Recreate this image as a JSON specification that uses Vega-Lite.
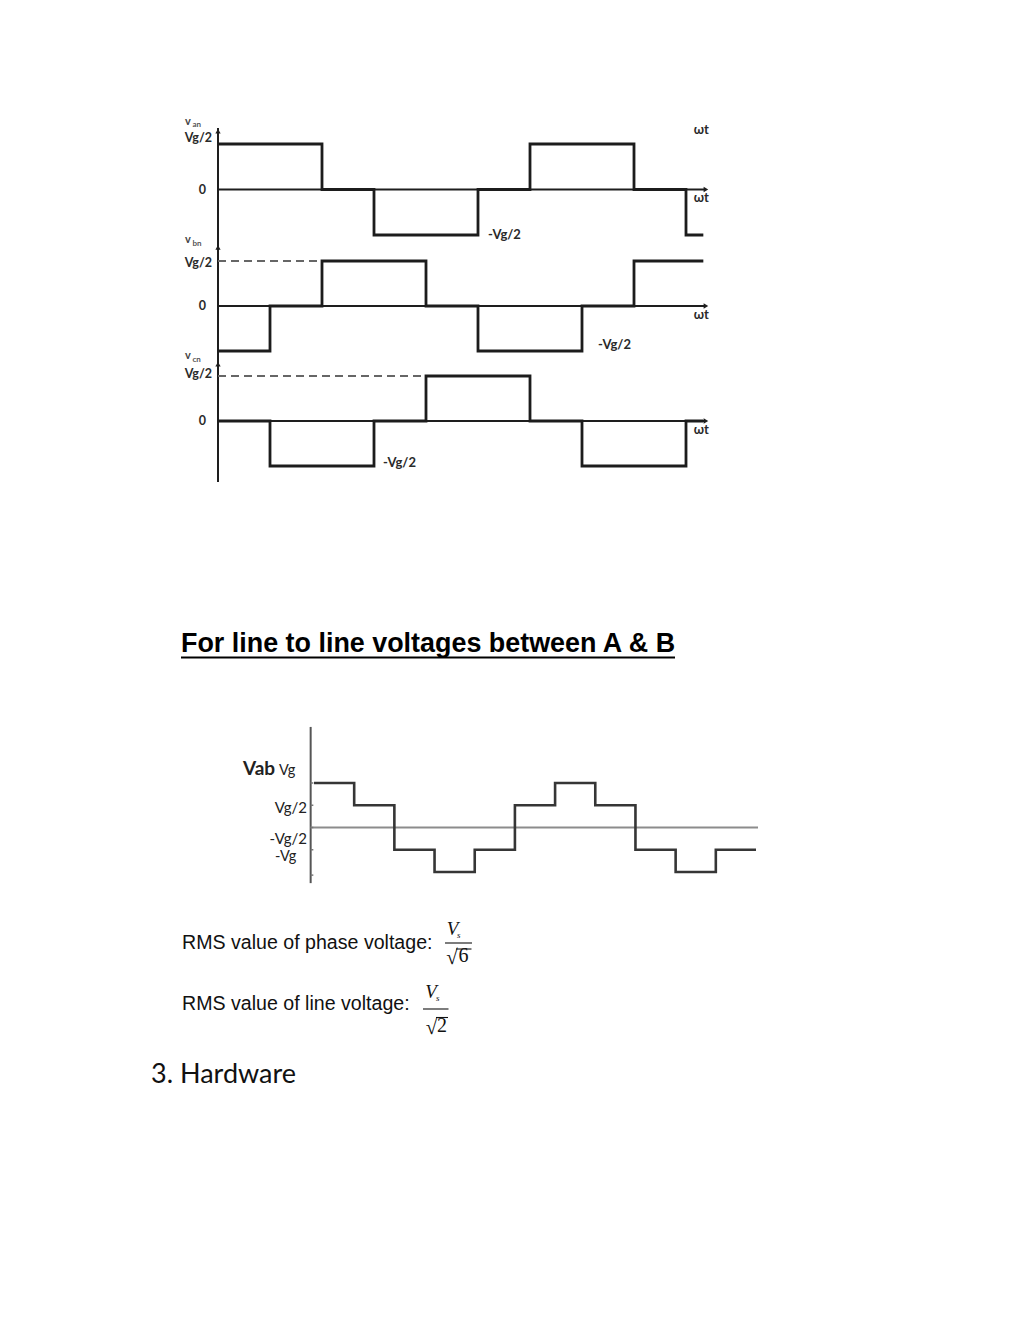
{
  "$schema": "https://vega.github.io/schema/vega-lite/v6.json",
  "width": 1024,
  "height": 1326,
  "autosize": {"type": "fit", "contains": "padding"},
  "padding": 0,
  "background": "white",
  "config": {"view": {"stroke": null}, "axis": {"disable": true}, "legend": {"disable": true}},
  "datasets": {
    "phases": [
      {"phase": "an", "wt": 0, "v": 0.5}, {"phase": "an", "wt": 120, "v": 0}, {"phase": "an", "wt": 180, "v": -0.5}, {"phase": "an", "wt": 300, "v": 0},
      {"phase": "an", "wt": 360, "v": 0.5}, {"phase": "an", "wt": 480, "v": 0}, {"phase": "an", "wt": 540, "v": -0.5}, {"phase": "an", "wt": 560, "v": -0.5},
      {"phase": "bn", "wt": 0, "v": -0.5}, {"phase": "bn", "wt": 60, "v": 0}, {"phase": "bn", "wt": 120, "v": 0.5}, {"phase": "bn", "wt": 240, "v": 0},
      {"phase": "bn", "wt": 300, "v": -0.5}, {"phase": "bn", "wt": 420, "v": 0}, {"phase": "bn", "wt": 480, "v": 0.5}, {"phase": "bn", "wt": 560, "v": 0.5},
      {"phase": "cn", "wt": 0, "v": 0}, {"phase": "cn", "wt": 60, "v": -0.5}, {"phase": "cn", "wt": 180, "v": 0}, {"phase": "cn", "wt": 240, "v": 0.5},
      {"phase": "cn", "wt": 360, "v": 0}, {"phase": "cn", "wt": 420, "v": -0.5}, {"phase": "cn", "wt": 540, "v": 0}, {"phase": "cn", "wt": 560, "v": 0}
    ],
    "axes": [
      {"phase": "an", "wt": 0, "v1": 0.676, "v2": -0.665, "end": 562},
      {"phase": "bn", "wt": 0, "v1": 0.689, "v2": -0.667, "end": 562},
      {"phase": "cn", "wt": 0, "v1": 0.667, "v2": -0.678, "end": 562}
    ],
    "arrows": [
      {"phase": "an", "wt": 0, "v": 0.64, "dir": "up"}, {"phase": "an", "wt": 563, "v": 0, "dir": "right"},
      {"phase": "bn", "wt": 0, "v": 0.65, "dir": "up"}, {"phase": "bn", "wt": 563, "v": 0, "dir": "right"},
      {"phase": "cn", "wt": 0, "v": 0.63, "dir": "up"}, {"phase": "cn", "wt": 563, "v": 0, "dir": "right"}
    ],
    "refs": [
      {"phase": "bn", "wt1": 0, "wt2": 120, "v": 0.5},
      {"phase": "cn", "wt1": 0, "wt2": 240, "v": 0.5}
    ],
    "toplabels": [
      {"phase": "an", "role": "level", "wt": -6.9, "v": 0.57, "label": "Vg/2"},
      {"phase": "an", "role": "level", "wt": -13.8, "v": 0, "label": "0"},
      {"phase": "an", "role": "note", "wt": 549, "v": 0.654, "label": "ωt"},
      {"phase": "an", "role": "note", "wt": 549, "v": -0.093, "label": "ωt"},
      {"phase": "an", "role": "note", "wt": 311.5, "v": -0.5, "label": "-Vg/2"},
      {"phase": "an", "role": "sym", "wt": -38, "v": 0.745, "label": "v"},
      {"phase": "an", "role": "sub", "wt": -29.5, "v": 0.712, "label": "an"},
      {"phase": "bn", "role": "level", "wt": -6.9, "v": 0.478, "label": "Vg/2"},
      {"phase": "bn", "role": "level", "wt": -13.8, "v": 0, "label": "0"},
      {"phase": "bn", "role": "note", "wt": 549, "v": -0.1, "label": "ωt"},
      {"phase": "bn", "role": "note", "wt": 438.5, "v": -0.433, "label": "-Vg/2"},
      {"phase": "bn", "role": "sym", "wt": -38, "v": 0.733, "label": "v"},
      {"phase": "bn", "role": "sub", "wt": -29.5, "v": 0.687, "label": "bn"},
      {"phase": "cn", "role": "level", "wt": -6.9, "v": 0.52, "label": "Vg/2"},
      {"phase": "cn", "role": "level", "wt": -13.8, "v": 0, "label": "0"},
      {"phase": "cn", "role": "note", "wt": 549, "v": -0.1, "label": "ωt"},
      {"phase": "cn", "role": "note", "wt": 190.4, "v": -0.467, "label": "-Vg/2"},
      {"phase": "cn", "role": "sym", "wt": -38, "v": 0.72, "label": "v"},
      {"phase": "cn", "role": "sub", "wt": -29.5, "v": 0.683, "label": "cn"}
    ],
    "vab": [
      {"wt": 0, "v": 1}, {"wt": 60, "v": 0.5}, {"wt": 120, "v": -0.5}, {"wt": 180, "v": -1}, {"wt": 240, "v": -0.5}, {"wt": 300, "v": 0.5},
      {"wt": 360, "v": 1}, {"wt": 420, "v": 0.5}, {"wt": 480, "v": -0.5}, {"wt": 540, "v": -1}, {"wt": 600, "v": -0.5}, {"wt": 660, "v": -0.5}
    ],
    "vabticks": [
      {"wt1": -5, "wt2": -1, "v": 1}, {"wt1": -5, "wt2": -1, "v": 0.5}, {"wt1": -5, "wt2": -1, "v": 0},
      {"wt1": -5, "wt2": -1, "v": -0.5}, {"wt1": -5, "wt2": -1, "v": -1.07}
    ],
    "vablabels": [
      {"role": "big", "wt": -82.1, "v": 1.315, "label": "Vab"},
      {"role": "left", "wt": -52.3, "v": 1.27, "label": "Vg"},
      {"role": "left", "wt": -58.2, "v": -0.663, "label": "-Vg"},
      {"role": "right", "wt": -10.5, "v": 0.438, "label": "Vg/2"},
      {"role": "right", "wt": -10.5, "v": -0.258, "label": "-Vg/2"}
    ],
    "page": [
      {"role": "title", "x": 108.18, "y": 389.43, "text": "For line to line voltages between A & B"},
      {"role": "body", "x": 108.77, "y": 566.83, "text": "RMS value of phase voltage:"},
      {"role": "body", "x": 108.77, "y": 603.26, "text": "RMS value of line voltage:"},
      {"role": "V", "x": 270.44, "y": 558.46, "text": "V"},
      {"role": "V", "x": 257.59, "y": 596.09, "text": "V"},
      {"role": "sub", "x": 273.13, "y": 560.25, "text": "s"},
      {"role": "sub", "x": 260.58, "y": 597.88, "text": "s"},
      {"role": "digit", "x": 277.01, "y": 574.59, "text": "6"},
      {"role": "digit", "x": 264.16, "y": 616.4, "text": "2"},
      {"role": "root", "x": 273.6, "y": 575.6, "text": "√"},
      {"role": "root", "x": 261.3, "y": 617.4, "text": "√"},
      {"role": "heading", "x": 90.25, "y": 646.86, "text": "3. Hardware"}
    ],
    "pagerules": [
      {"role": "underline", "x1": 108.18, "x2": 403.42, "y": 392.71},
      {"role": "bar", "x1": 265.96, "x2": 282.09, "y": 563.24},
      {"role": "bar", "x1": 272.53, "x2": 281.79, "y": 566.83},
      {"role": "bar", "x1": 252.81, "x2": 268.05, "y": 602.66},
      {"role": "bar", "x1": 260.58, "x2": 267.75, "y": 607.74}
    ]
  },
  "layer": [
    {
      "layer": [
        {"data": {"name": "axes"}, "transform": [{"filter": "datum.phase === 'an'"}], "mark": {"type": "rule", "color": "#1e1e1e", "strokeWidth": 2},
         "encoding": {"x": {"field": "wt", "type": "quantitative", "scale": {"domain": [0, 540], "range": [218, 686], "zero": false, "nice": false}},
                      "y": {"field": "v1", "type": "quantitative", "scale": {"domain": [-0.5, 0.5], "range": [235, 144], "zero": false, "nice": false}}, "y2": {"field": "v2"}}},
        {"data": {"name": "axes"}, "transform": [{"filter": "datum.phase === 'an'"}], "mark": {"type": "rule", "color": "#1e1e1e", "strokeWidth": 2},
         "encoding": {"x": {"field": "wt", "type": "quantitative", "scale": {"domain": [0, 540], "range": [218, 686], "zero": false, "nice": false}}, "x2": {"field": "end"},
                      "y": {"datum": 0, "type": "quantitative", "scale": {"domain": [-0.5, 0.5], "range": [235, 144], "zero": false, "nice": false}}}},
        {"data": {"name": "arrows"}, "transform": [{"filter": "datum.phase === 'an'"}], "mark": {"type": "point", "filled": true, "color": "#1e1e1e", "opacity": 1, "size": 28},
         "encoding": {"x": {"field": "wt", "type": "quantitative", "scale": {"domain": [0, 540], "range": [218, 686], "zero": false, "nice": false}},
                      "y": {"field": "v", "type": "quantitative", "scale": {"domain": [-0.5, 0.5], "range": [235, 144], "zero": false, "nice": false}},
                      "shape": {"field": "dir", "type": "nominal", "scale": {"domain": ["up", "right"], "range": ["triangle-up", "triangle-right"]}, "legend": null}}},
        {"data": {"name": "phases"}, "transform": [{"filter": "datum.phase === 'an'"}], "mark": {"type": "line", "interpolate": "step-after", "color": "#1c1c1c", "strokeWidth": 2.8},
         "encoding": {"x": {"field": "wt", "type": "quantitative", "scale": {"domain": [0, 540], "range": [218, 686], "zero": false, "nice": false}},
                      "y": {"field": "v", "type": "quantitative", "scale": {"domain": [-0.5, 0.5], "range": [235, 144], "zero": false, "nice": false}}}},
        {"data": {"name": "toplabels"}, "transform": [{"filter": "datum.phase === 'an' && datum.role === 'level'"}], "mark": {"type": "text", "align": "right", "baseline": "middle", "font": "Lato", "fontWeight": "bold", "fontSize": 12.5, "color": "#2a2a2a"},
         "encoding": {"x": {"field": "wt", "type": "quantitative", "scale": {"domain": [0, 540], "range": [218, 686], "zero": false, "nice": false}},
                      "y": {"field": "v", "type": "quantitative", "scale": {"domain": [-0.5, 0.5], "range": [235, 144], "zero": false, "nice": false}}, "text": {"field": "label"}}},
        {"data": {"name": "toplabels"}, "transform": [{"filter": "datum.phase === 'an' && datum.role === 'note'"}], "mark": {"type": "text", "align": "left", "baseline": "middle", "font": "Lato", "fontWeight": "bold", "fontSize": 13, "color": "#2a2a2a"},
         "encoding": {"x": {"field": "wt", "type": "quantitative", "scale": {"domain": [0, 540], "range": [218, 686], "zero": false, "nice": false}},
                      "y": {"field": "v", "type": "quantitative", "scale": {"domain": [-0.5, 0.5], "range": [235, 144], "zero": false, "nice": false}}, "text": {"field": "label"}}},
        {"data": {"name": "toplabels"}, "transform": [{"filter": "datum.phase === 'an' && datum.role === 'sym'"}], "mark": {"type": "text", "align": "left", "baseline": "middle", "font": "Lato", "fontWeight": "bold", "fontSize": 11, "color": "#444"},
         "encoding": {"x": {"field": "wt", "type": "quantitative", "scale": {"domain": [0, 540], "range": [218, 686], "zero": false, "nice": false}},
                      "y": {"field": "v", "type": "quantitative", "scale": {"domain": [-0.5, 0.5], "range": [235, 144], "zero": false, "nice": false}}, "text": {"field": "label"}}},
        {"data": {"name": "toplabels"}, "transform": [{"filter": "datum.phase === 'an' && datum.role === 'sub'"}], "mark": {"type": "text", "align": "left", "baseline": "middle", "font": "Lato", "fontWeight": "bold", "fontSize": 8, "color": "#555"},
         "encoding": {"x": {"field": "wt", "type": "quantitative", "scale": {"domain": [0, 540], "range": [218, 686], "zero": false, "nice": false}},
                      "y": {"field": "v", "type": "quantitative", "scale": {"domain": [-0.5, 0.5], "range": [235, 144], "zero": false, "nice": false}}, "text": {"field": "label"}}}
      ]
    },
    {
      "layer": [
        {"data": {"name": "axes"}, "transform": [{"filter": "datum.phase === 'bn'"}], "mark": {"type": "rule", "color": "#1e1e1e", "strokeWidth": 2},
         "encoding": {"x": {"field": "wt", "type": "quantitative", "scale": {"domain": [0, 540], "range": [218, 686], "zero": false, "nice": false}},
                      "y": {"field": "v1", "type": "quantitative", "scale": {"domain": [-0.5, 0.5], "range": [351, 261], "zero": false, "nice": false}}, "y2": {"field": "v2"}}},
        {"data": {"name": "axes"}, "transform": [{"filter": "datum.phase === 'bn'"}], "mark": {"type": "rule", "color": "#1e1e1e", "strokeWidth": 2},
         "encoding": {"x": {"field": "wt", "type": "quantitative", "scale": {"domain": [0, 540], "range": [218, 686], "zero": false, "nice": false}}, "x2": {"field": "end"},
                      "y": {"datum": 0, "type": "quantitative", "scale": {"domain": [-0.5, 0.5], "range": [351, 261], "zero": false, "nice": false}}}},
        {"data": {"name": "arrows"}, "transform": [{"filter": "datum.phase === 'bn'"}], "mark": {"type": "point", "filled": true, "color": "#1e1e1e", "opacity": 1, "size": 28},
         "encoding": {"x": {"field": "wt", "type": "quantitative", "scale": {"domain": [0, 540], "range": [218, 686], "zero": false, "nice": false}},
                      "y": {"field": "v", "type": "quantitative", "scale": {"domain": [-0.5, 0.5], "range": [351, 261], "zero": false, "nice": false}},
                      "shape": {"field": "dir", "type": "nominal", "scale": {"domain": ["up", "right"], "range": ["triangle-up", "triangle-right"]}, "legend": null}}},
        {"data": {"name": "refs"}, "transform": [{"filter": "datum.phase === 'bn'"}], "mark": {"type": "rule", "color": "#666", "strokeWidth": 2, "strokeDash": [8, 5]},
         "encoding": {"x": {"field": "wt1", "type": "quantitative", "scale": {"domain": [0, 540], "range": [218, 686], "zero": false, "nice": false}}, "x2": {"field": "wt2"},
                      "y": {"field": "v", "type": "quantitative", "scale": {"domain": [-0.5, 0.5], "range": [351, 261], "zero": false, "nice": false}}}},
        {"data": {"name": "phases"}, "transform": [{"filter": "datum.phase === 'bn'"}], "mark": {"type": "line", "interpolate": "step-after", "color": "#1c1c1c", "strokeWidth": 2.8},
         "encoding": {"x": {"field": "wt", "type": "quantitative", "scale": {"domain": [0, 540], "range": [218, 686], "zero": false, "nice": false}},
                      "y": {"field": "v", "type": "quantitative", "scale": {"domain": [-0.5, 0.5], "range": [351, 261], "zero": false, "nice": false}}}},
        {"data": {"name": "toplabels"}, "transform": [{"filter": "datum.phase === 'bn' && datum.role === 'level'"}], "mark": {"type": "text", "align": "right", "baseline": "middle", "font": "Lato", "fontWeight": "bold", "fontSize": 12.5, "color": "#2a2a2a"},
         "encoding": {"x": {"field": "wt", "type": "quantitative", "scale": {"domain": [0, 540], "range": [218, 686], "zero": false, "nice": false}},
                      "y": {"field": "v", "type": "quantitative", "scale": {"domain": [-0.5, 0.5], "range": [351, 261], "zero": false, "nice": false}}, "text": {"field": "label"}}},
        {"data": {"name": "toplabels"}, "transform": [{"filter": "datum.phase === 'bn' && datum.role === 'note'"}], "mark": {"type": "text", "align": "left", "baseline": "middle", "font": "Lato", "fontWeight": "bold", "fontSize": 13, "color": "#2a2a2a"},
         "encoding": {"x": {"field": "wt", "type": "quantitative", "scale": {"domain": [0, 540], "range": [218, 686], "zero": false, "nice": false}},
                      "y": {"field": "v", "type": "quantitative", "scale": {"domain": [-0.5, 0.5], "range": [351, 261], "zero": false, "nice": false}}, "text": {"field": "label"}}},
        {"data": {"name": "toplabels"}, "transform": [{"filter": "datum.phase === 'bn' && datum.role === 'sym'"}], "mark": {"type": "text", "align": "left", "baseline": "middle", "font": "Lato", "fontWeight": "bold", "fontSize": 11, "color": "#444"},
         "encoding": {"x": {"field": "wt", "type": "quantitative", "scale": {"domain": [0, 540], "range": [218, 686], "zero": false, "nice": false}},
                      "y": {"field": "v", "type": "quantitative", "scale": {"domain": [-0.5, 0.5], "range": [351, 261], "zero": false, "nice": false}}, "text": {"field": "label"}}},
        {"data": {"name": "toplabels"}, "transform": [{"filter": "datum.phase === 'bn' && datum.role === 'sub'"}], "mark": {"type": "text", "align": "left", "baseline": "middle", "font": "Lato", "fontWeight": "bold", "fontSize": 8, "color": "#555"},
         "encoding": {"x": {"field": "wt", "type": "quantitative", "scale": {"domain": [0, 540], "range": [218, 686], "zero": false, "nice": false}},
                      "y": {"field": "v", "type": "quantitative", "scale": {"domain": [-0.5, 0.5], "range": [351, 261], "zero": false, "nice": false}}, "text": {"field": "label"}}}
      ]
    },
    {
      "layer": [
        {"data": {"name": "axes"}, "transform": [{"filter": "datum.phase === 'cn'"}], "mark": {"type": "rule", "color": "#1e1e1e", "strokeWidth": 2},
         "encoding": {"x": {"field": "wt", "type": "quantitative", "scale": {"domain": [0, 540], "range": [218, 686], "zero": false, "nice": false}},
                      "y": {"field": "v1", "type": "quantitative", "scale": {"domain": [-0.5, 0.5], "range": [466, 376], "zero": false, "nice": false}}, "y2": {"field": "v2"}}},
        {"data": {"name": "axes"}, "transform": [{"filter": "datum.phase === 'cn'"}], "mark": {"type": "rule", "color": "#1e1e1e", "strokeWidth": 2},
         "encoding": {"x": {"field": "wt", "type": "quantitative", "scale": {"domain": [0, 540], "range": [218, 686], "zero": false, "nice": false}}, "x2": {"field": "end"},
                      "y": {"datum": 0, "type": "quantitative", "scale": {"domain": [-0.5, 0.5], "range": [466, 376], "zero": false, "nice": false}}}},
        {"data": {"name": "arrows"}, "transform": [{"filter": "datum.phase === 'cn'"}], "mark": {"type": "point", "filled": true, "color": "#1e1e1e", "opacity": 1, "size": 28},
         "encoding": {"x": {"field": "wt", "type": "quantitative", "scale": {"domain": [0, 540], "range": [218, 686], "zero": false, "nice": false}},
                      "y": {"field": "v", "type": "quantitative", "scale": {"domain": [-0.5, 0.5], "range": [466, 376], "zero": false, "nice": false}},
                      "shape": {"field": "dir", "type": "nominal", "scale": {"domain": ["up", "right"], "range": ["triangle-up", "triangle-right"]}, "legend": null}}},
        {"data": {"name": "refs"}, "transform": [{"filter": "datum.phase === 'cn'"}], "mark": {"type": "rule", "color": "#666", "strokeWidth": 2, "strokeDash": [8, 5]},
         "encoding": {"x": {"field": "wt1", "type": "quantitative", "scale": {"domain": [0, 540], "range": [218, 686], "zero": false, "nice": false}}, "x2": {"field": "wt2"},
                      "y": {"field": "v", "type": "quantitative", "scale": {"domain": [-0.5, 0.5], "range": [466, 376], "zero": false, "nice": false}}}},
        {"data": {"name": "phases"}, "transform": [{"filter": "datum.phase === 'cn'"}], "mark": {"type": "line", "interpolate": "step-after", "color": "#1c1c1c", "strokeWidth": 2.8},
         "encoding": {"x": {"field": "wt", "type": "quantitative", "scale": {"domain": [0, 540], "range": [218, 686], "zero": false, "nice": false}},
                      "y": {"field": "v", "type": "quantitative", "scale": {"domain": [-0.5, 0.5], "range": [466, 376], "zero": false, "nice": false}}}},
        {"data": {"name": "toplabels"}, "transform": [{"filter": "datum.phase === 'cn' && datum.role === 'level'"}], "mark": {"type": "text", "align": "right", "baseline": "middle", "font": "Lato", "fontWeight": "bold", "fontSize": 12.5, "color": "#2a2a2a"},
         "encoding": {"x": {"field": "wt", "type": "quantitative", "scale": {"domain": [0, 540], "range": [218, 686], "zero": false, "nice": false}},
                      "y": {"field": "v", "type": "quantitative", "scale": {"domain": [-0.5, 0.5], "range": [466, 376], "zero": false, "nice": false}}, "text": {"field": "label"}}},
        {"data": {"name": "toplabels"}, "transform": [{"filter": "datum.phase === 'cn' && datum.role === 'note'"}], "mark": {"type": "text", "align": "left", "baseline": "middle", "font": "Lato", "fontWeight": "bold", "fontSize": 13, "color": "#2a2a2a"},
         "encoding": {"x": {"field": "wt", "type": "quantitative", "scale": {"domain": [0, 540], "range": [218, 686], "zero": false, "nice": false}},
                      "y": {"field": "v", "type": "quantitative", "scale": {"domain": [-0.5, 0.5], "range": [466, 376], "zero": false, "nice": false}}, "text": {"field": "label"}}},
        {"data": {"name": "toplabels"}, "transform": [{"filter": "datum.phase === 'cn' && datum.role === 'sym'"}], "mark": {"type": "text", "align": "left", "baseline": "middle", "font": "Lato", "fontWeight": "bold", "fontSize": 11, "color": "#444"},
         "encoding": {"x": {"field": "wt", "type": "quantitative", "scale": {"domain": [0, 540], "range": [218, 686], "zero": false, "nice": false}},
                      "y": {"field": "v", "type": "quantitative", "scale": {"domain": [-0.5, 0.5], "range": [466, 376], "zero": false, "nice": false}}, "text": {"field": "label"}}},
        {"data": {"name": "toplabels"}, "transform": [{"filter": "datum.phase === 'cn' && datum.role === 'sub'"}], "mark": {"type": "text", "align": "left", "baseline": "middle", "font": "Lato", "fontWeight": "bold", "fontSize": 8, "color": "#555"},
         "encoding": {"x": {"field": "wt", "type": "quantitative", "scale": {"domain": [0, 540], "range": [218, 686], "zero": false, "nice": false}},
                      "y": {"field": "v", "type": "quantitative", "scale": {"domain": [-0.5, 0.5], "range": [466, 376], "zero": false, "nice": false}}, "text": {"field": "label"}}}
      ]
    },
    {
      "layer": [
        {"data": {"values": [{"wt": -5, "v1": 2.26, "v2": -1.25}]}, "mark": {"type": "rule", "color": "#555", "strokeWidth": 2},
         "encoding": {"x": {"field": "wt", "type": "quantitative", "scale": {"domain": [0, 660], "range": [314, 756], "zero": false, "nice": false}},
                      "y": {"field": "v1", "type": "quantitative", "scale": {"domain": [-1, 1], "range": [872, 783], "zero": false, "nice": false}}, "y2": {"field": "v2"}}},
        {"data": {"values": [{"wt1": -5, "wt2": 663, "v": 0}]}, "mark": {"type": "rule", "color": "#8c8c8c", "strokeWidth": 2},
         "encoding": {"x": {"field": "wt1", "type": "quantitative", "scale": {"domain": [0, 660], "range": [314, 756], "zero": false, "nice": false}}, "x2": {"field": "wt2"},
                      "y": {"field": "v", "type": "quantitative", "scale": {"domain": [-1, 1], "range": [872, 783], "zero": false, "nice": false}}}},
        {"data": {"name": "vabticks"}, "mark": {"type": "rule", "color": "#777", "strokeWidth": 1.5},
         "encoding": {"x": {"field": "wt1", "type": "quantitative", "scale": {"domain": [0, 660], "range": [314, 756], "zero": false, "nice": false}}, "x2": {"field": "wt2"},
                      "y": {"field": "v", "type": "quantitative", "scale": {"domain": [-1, 1], "range": [872, 783], "zero": false, "nice": false}}}},
        {"data": {"name": "vab"}, "mark": {"type": "line", "interpolate": "step-after", "color": "#363636", "strokeWidth": 2.6},
         "encoding": {"x": {"field": "wt", "type": "quantitative", "scale": {"domain": [0, 660], "range": [314, 756], "zero": false, "nice": false}},
                      "y": {"field": "v", "type": "quantitative", "scale": {"domain": [-1, 1], "range": [872, 783], "zero": false, "nice": false}}}},
        {"data": {"name": "vablabels"}, "transform": [{"filter": "datum.role === 'big'"}], "mark": {"type": "text", "align": "center", "baseline": "middle", "font": "Lato", "fontWeight": "bold", "fontSize": 19, "color": "#222"},
         "encoding": {"x": {"field": "wt", "type": "quantitative", "scale": {"domain": [0, 660], "range": [314, 756], "zero": false, "nice": false}},
                      "y": {"field": "v", "type": "quantitative", "scale": {"domain": [-1, 1], "range": [872, 783], "zero": false, "nice": false}}, "text": {"field": "label"}}},
        {"data": {"name": "vablabels"}, "transform": [{"filter": "datum.role === 'left'"}], "mark": {"type": "text", "align": "left", "baseline": "middle", "font": "Lato", "fontSize": 14.5, "color": "#222"},
         "encoding": {"x": {"field": "wt", "type": "quantitative", "scale": {"domain": [0, 660], "range": [314, 756], "zero": false, "nice": false}},
                      "y": {"field": "v", "type": "quantitative", "scale": {"domain": [-1, 1], "range": [872, 783], "zero": false, "nice": false}}, "text": {"field": "label"}}},
        {"data": {"name": "vablabels"}, "transform": [{"filter": "datum.role === 'right'"}], "mark": {"type": "text", "align": "right", "baseline": "middle", "font": "Lato", "fontSize": 15, "color": "#222"},
         "encoding": {"x": {"field": "wt", "type": "quantitative", "scale": {"domain": [0, 660], "range": [314, 756], "zero": false, "nice": false}},
                      "y": {"field": "v", "type": "quantitative", "scale": {"domain": [-1, 1], "range": [872, 783], "zero": false, "nice": false}}, "text": {"field": "label"}}}
      ]
    },
    {
      "layer": [
        {"data": {"name": "page"}, "transform": [{"filter": "datum.role === 'title'"}], "mark": {"type": "text", "align": "left", "baseline": "alphabetic", "font": "Liberation Sans", "fontWeight": "bold", "fontSize": 26.9, "color": "#000"},
         "encoding": {"x": {"field": "x", "type": "quantitative", "scale": {"domain": [0, 612], "range": [0, 1024], "zero": false, "nice": false}},
                      "y": {"field": "y", "type": "quantitative", "scale": {"domain": [0, 792], "range": [0, 1326], "zero": false, "nice": false}}, "text": {"field": "text"}}},
        {"data": {"name": "page"}, "transform": [{"filter": "datum.role === 'body'"}], "mark": {"type": "text", "align": "left", "baseline": "alphabetic", "font": "Liberation Sans", "fontSize": 19.6, "color": "#111"},
         "encoding": {"x": {"field": "x", "type": "quantitative", "scale": {"domain": [0, 612], "range": [0, 1024], "zero": false, "nice": false}},
                      "y": {"field": "y", "type": "quantitative", "scale": {"domain": [0, 792], "range": [0, 1326], "zero": false, "nice": false}}, "text": {"field": "text"}}},
        {"data": {"name": "page"}, "transform": [{"filter": "datum.role === 'V'"}], "mark": {"type": "text", "align": "center", "baseline": "alphabetic", "font": "Liberation Serif", "fontStyle": "italic", "fontSize": 19, "color": "#111"},
         "encoding": {"x": {"field": "x", "type": "quantitative", "scale": {"domain": [0, 612], "range": [0, 1024], "zero": false, "nice": false}},
                      "y": {"field": "y", "type": "quantitative", "scale": {"domain": [0, 792], "range": [0, 1326], "zero": false, "nice": false}}, "text": {"field": "text"}}},
        {"data": {"name": "page"}, "transform": [{"filter": "datum.role === 'sub'"}], "mark": {"type": "text", "align": "left", "baseline": "alphabetic", "font": "Liberation Serif", "fontStyle": "italic", "fontSize": 9, "color": "#111"},
         "encoding": {"x": {"field": "x", "type": "quantitative", "scale": {"domain": [0, 612], "range": [0, 1024], "zero": false, "nice": false}},
                      "y": {"field": "y", "type": "quantitative", "scale": {"domain": [0, 792], "range": [0, 1326], "zero": false, "nice": false}}, "text": {"field": "text"}}},
        {"data": {"name": "page"}, "transform": [{"filter": "datum.role === 'digit'"}], "mark": {"type": "text", "align": "center", "baseline": "alphabetic", "font": "Liberation Serif", "fontSize": 20, "color": "#111"},
         "encoding": {"x": {"field": "x", "type": "quantitative", "scale": {"domain": [0, 612], "range": [0, 1024], "zero": false, "nice": false}},
                      "y": {"field": "y", "type": "quantitative", "scale": {"domain": [0, 792], "range": [0, 1326], "zero": false, "nice": false}}, "text": {"field": "text"}}},
        {"data": {"name": "page"}, "transform": [{"filter": "datum.role === 'root'"}], "mark": {"type": "text", "align": "right", "baseline": "alphabetic", "font": "Liberation Serif", "fontSize": 21, "color": "#111"},
         "encoding": {"x": {"field": "x", "type": "quantitative", "scale": {"domain": [0, 612], "range": [0, 1024], "zero": false, "nice": false}},
                      "y": {"field": "y", "type": "quantitative", "scale": {"domain": [0, 792], "range": [0, 1326], "zero": false, "nice": false}}, "text": {"field": "text"}}},
        {"data": {"name": "page"}, "transform": [{"filter": "datum.role === 'heading'"}], "mark": {"type": "text", "align": "left", "baseline": "alphabetic", "font": "Lato", "fontSize": 27, "color": "#111"},
         "encoding": {"x": {"field": "x", "type": "quantitative", "scale": {"domain": [0, 612], "range": [0, 1024], "zero": false, "nice": false}},
                      "y": {"field": "y", "type": "quantitative", "scale": {"domain": [0, 792], "range": [0, 1326], "zero": false, "nice": false}}, "text": {"field": "text"}}},
        {"data": {"name": "pagerules"}, "transform": [{"filter": "datum.role === 'underline'"}], "mark": {"type": "rule", "color": "#000", "strokeWidth": 2},
         "encoding": {"x": {"field": "x1", "type": "quantitative", "scale": {"domain": [0, 612], "range": [0, 1024], "zero": false, "nice": false}}, "x2": {"field": "x2"},
                      "y": {"field": "y", "type": "quantitative", "scale": {"domain": [0, 792], "range": [0, 1326], "zero": false, "nice": false}}}},
        {"data": {"name": "pagerules"}, "transform": [{"filter": "datum.role === 'bar'"}], "mark": {"type": "rule", "color": "#111", "strokeWidth": 1.1},
         "encoding": {"x": {"field": "x1", "type": "quantitative", "scale": {"domain": [0, 612], "range": [0, 1024], "zero": false, "nice": false}}, "x2": {"field": "x2"},
                      "y": {"field": "y", "type": "quantitative", "scale": {"domain": [0, 792], "range": [0, 1326], "zero": false, "nice": false}}}}
      ]
    }
  ],
  "resolve": {"scale": {"x": "independent", "y": "independent"}}
}
